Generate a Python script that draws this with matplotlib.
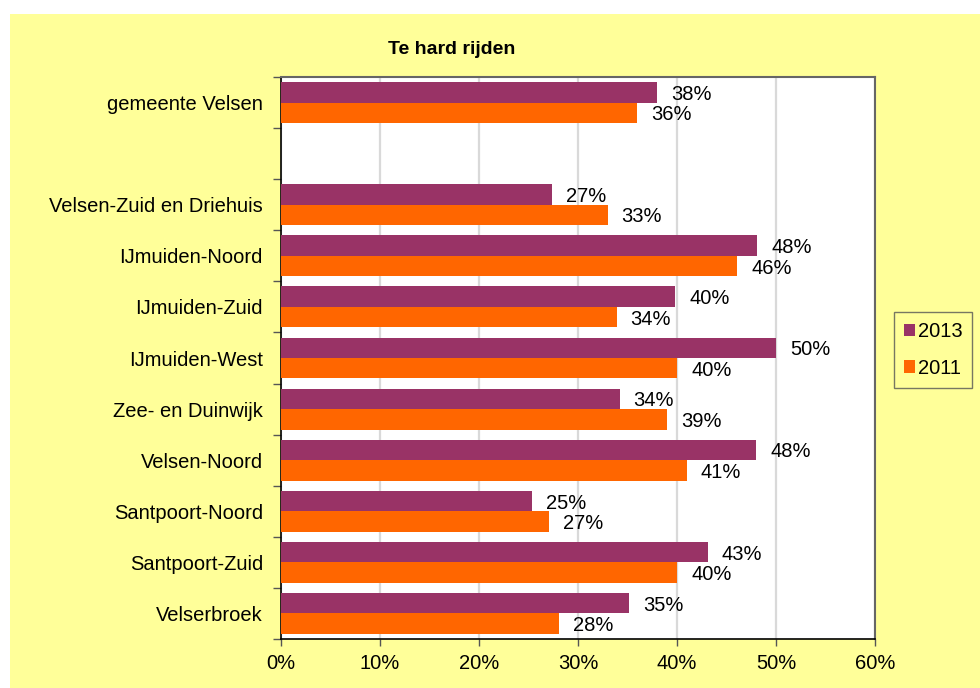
import matplotlib
matplotlib.use("Agg")
import matplotlib.pyplot as plt
from matplotlib.patches import Rectangle, Patch

categories = ["gemeente Velsen", "", "Velsen-Zuid en Driehuis", "IJmuiden-Noord",
              "IJmuiden-Zuid", "IJmuiden-West", "Zee- en Duinwijk", "Velsen-Noord",
              "Santpoort-Noord", "Santpoort-Zuid", "Velserbroek"]
values_2013 = [38.0, None, 27.4, 48.1, 39.8, 50.0, 34.2, 48.0, 25.4, 43.1, 35.2]
values_2011 = [36.0, None, 33.0, 46.1, 33.9, 40.0, 39.0, 41.0, 27.1, 40.0, 28.1]
labels_2013 = ["38%", "", "27%", "48%", "40%", "50%", "34%", "48%", "25%", "43%", "35%"]
labels_2011 = ["36%", "", "33%", "46%", "34%", "40%", "39%", "41%", "27%", "40%", "28%"]
x_ticks = [0, 10, 20, 30, 40, 50, 60]
x_ticklabels = ["0%", "10%", "20%", "30%", "40%", "50%", "60%"]
series_names = ["2013", "2011"]
title = "Te hard rijden"

c2013 = "#993366"
c2011 = "#FF6600"
yellow = "#FFFF99"
FONT = "Liberation Sans"
FS = 14.5

fig = plt.figure(figsize=(9.8, 6.88), dpi=100, facecolor="white")
fig.patches.append(Rectangle((10 / 980, 0), 1 - 10 / 980, 1 - 14 / 688,
                             transform=fig.transFigure, facecolor=yellow,
                             edgecolor="none", zorder=-10))

ax = fig.add_axes([281 / 980, 1 - 639 / 688, (875 - 281) / 980, (639 - 77) / 688])
ax.set_facecolor("white")

n = len(categories)
ypos = list(range(n))
h = 0.4
for i, (v13, v11, l13, l11) in enumerate(zip(values_2013, values_2011, labels_2013, labels_2011)):
    if v13 is None:
        continue
    y13 = i - h / 2
    y11 = i + h / 2
    ax.barh(y13, v13, height=h, color=c2013, zorder=3)
    ax.barh(y11, v11, height=h, color=c2011, zorder=3)
    ax.annotate(l13, (v13, y13), xytext=(14, -2), textcoords="offset pixels",
                va="center", ha="left", fontsize=FS, family=FONT, color="black")
    ax.annotate(l11, (v11, y11), xytext=(14, -2), textcoords="offset pixels",
                va="center", ha="left", fontsize=FS, family=FONT, color="black")

ax.set_ylim(n - 0.5, -0.5)
ax.set_xlim(0, 60)
ax.set_xticks(x_ticks)
ax.set_xticklabels(x_ticklabels, fontsize=FS, family=FONT)
ax.set_yticks(ypos)
ax.set_yticklabels(categories, fontsize=FS, family=FONT)
ax.tick_params(axis="y", length=0, pad=13)
ax.set_yticks([i - 0.5 for i in range(n + 1)], minor=True)
ax.tick_params(axis="y", which="minor", length=6, width=1, color="#555555", direction="out")
ax.tick_params(axis="x", length=5, width=1, color="#555555", direction="out", pad=6)

ax.grid(axis="x", color="#D9D9D9", linewidth=1.6, zorder=0)
ax.set_axisbelow(True)

for s in ["left", "bottom"]:
    ax.spines[s].set_color("black")
    ax.spines[s].set_linewidth(1.2)
for s in ["top", "right"]:
    ax.spines[s].set_color("#666666")
    ax.spines[s].set_linewidth(1.5)

fig.text(452 / 980, 1 - 50 / 688, title, ha="center", va="center",
         fontsize=14, fontweight="bold", family=FONT)

handles = [Patch(facecolor=c2013, edgecolor="none"), Patch(facecolor=c2011, edgecolor="none")]
leg = fig.legend(handles, series_names, loc="center", bbox_to_anchor=(933 / 980, 1 - 350 / 688),
                 frameon=True, fancybox=False, edgecolor="#555555", facecolor=yellow,
                 prop={"family": FONT, "size": FS}, handlelength=0.55, handleheight=0.55,
                 handletextpad=0.15, labelspacing=0.85, borderpad=0.5, borderaxespad=0)
leg.get_frame().set_linewidth(1.0)

fig.savefig("out.png", dpi=100, facecolor=fig.get_facecolor())
